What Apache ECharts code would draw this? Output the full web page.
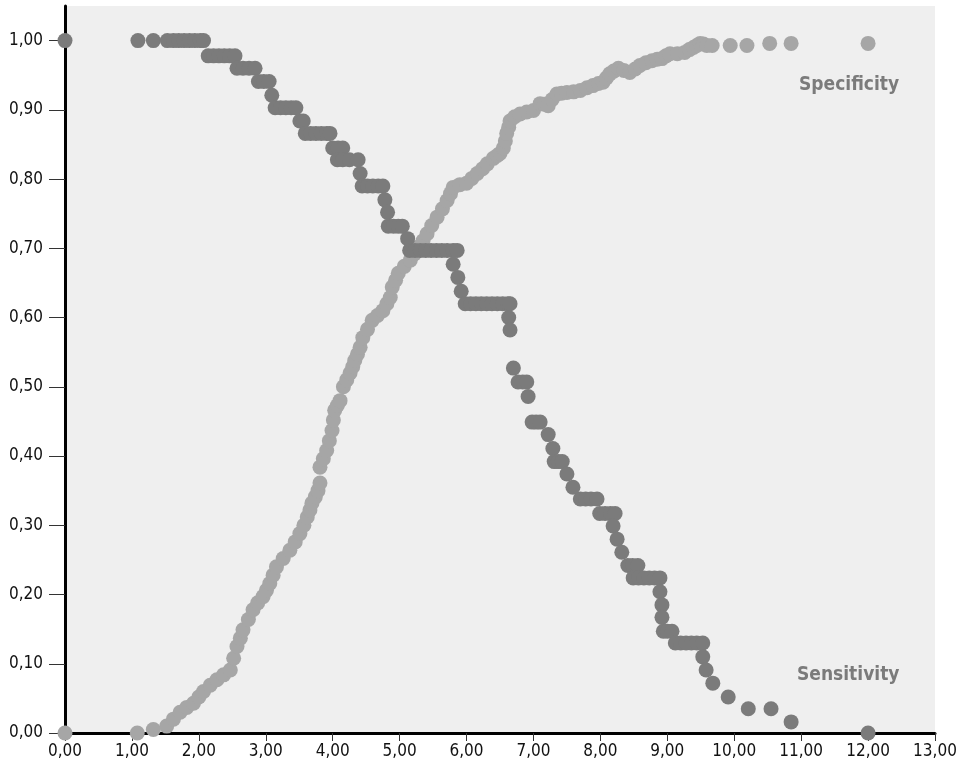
<!DOCTYPE html>
<html>
<head>
<meta charset="utf-8">
<script src="https://cdn.jsdelivr.net/npm/echarts@6/dist/echarts.min.js"></script>
<style>
  html, body { margin: 0; padding: 0; background: #fff; }
  #chart { width: 967px; height: 776px; }
</style>
</head>
<body>
<div id="chart"></div>
<script>
// Sensitivity (dark points): x cut-off, y value
const sensX = [0, 1.09, 1.32, 1.53, 1.62, 1.70, 1.78, 1.86, 1.94, 2.02, 2.07,
  2.14, 2.22, 2.30, 2.38, 2.46, 2.54,
  2.57, 2.66, 2.75, 2.84,
  2.89, 2.97, 3.05,
  3.09,
  3.14, 3.22, 3.30, 3.38, 3.45,
  3.51, 3.56,
  3.59, 3.67, 3.75, 3.83, 3.91, 3.96,
  4.00, 4.08, 4.15,
  4.07, 4.15, 4.25, 4.38,
  4.41,
  4.44, 4.52, 4.60, 4.68, 4.75,
  4.78,
  4.82,
  4.83, 4.91, 4.98, 5.04,
  5.12,
  5.15, 5.23, 5.31, 5.39, 5.47, 5.55, 5.63, 5.71, 5.80, 5.86,
  5.80,
  5.87,
  5.92,
  5.98, 6.06, 6.14, 6.22, 6.30, 6.38, 6.46, 6.54, 6.62, 6.65,
  6.63,
  6.65,
  6.70,
  6.77, 6.84, 6.90,
  6.92,
  6.98, 7.04, 7.10,
  7.22,
  7.29,
  7.31, 7.37, 7.43,
  7.50,
  7.59,
  7.70, 7.78, 7.86, 7.95,
  7.99, 8.07, 8.15, 8.22,
  8.19,
  8.25,
  8.32,
  8.41, 8.48, 8.56,
  8.49, 8.57, 8.65, 8.73, 8.81, 8.89,
  8.89,
  8.92,
  8.92,
  8.94, 9.00, 9.07,
  9.12, 9.20, 9.28, 9.36, 9.44, 9.53,
  9.53,
  9.58,
  9.68,
  9.91,
  10.21, 10.55,
  10.85,
  12.00];
const sensY = [1, 1, 1, 1, 1, 1, 1, 1, 1, 1, 1,
  0.978, 0.978, 0.978, 0.978, 0.978, 0.978,
  0.96, 0.96, 0.96, 0.96,
  0.941, 0.941, 0.941,
  0.921,
  0.903, 0.903, 0.903, 0.903, 0.903,
  0.884, 0.884,
  0.866, 0.866, 0.866, 0.866, 0.866, 0.866,
  0.845, 0.845, 0.845,
  0.828, 0.828, 0.828, 0.828,
  0.808,
  0.79, 0.79, 0.79, 0.79, 0.79,
  0.77,
  0.752,
  0.732, 0.732, 0.732, 0.732,
  0.714,
  0.697, 0.697, 0.697, 0.697, 0.697, 0.697, 0.697, 0.697, 0.697, 0.697,
  0.677,
  0.658,
  0.638,
  0.62, 0.62, 0.62, 0.62, 0.62, 0.62, 0.62, 0.62, 0.62, 0.62,
  0.60,
  0.582,
  0.527,
  0.507, 0.507, 0.507,
  0.486,
  0.449, 0.449, 0.449,
  0.431,
  0.411,
  0.392, 0.392, 0.392,
  0.374,
  0.355,
  0.338, 0.338, 0.338, 0.338,
  0.317, 0.317, 0.317, 0.317,
  0.299,
  0.28,
  0.261,
  0.242, 0.242, 0.242,
  0.224, 0.224, 0.224, 0.224, 0.224, 0.224,
  0.204,
  0.185,
  0.167,
  0.147, 0.147, 0.147,
  0.13, 0.13, 0.13, 0.13, 0.13, 0.13,
  0.11,
  0.091,
  0.072,
  0.052,
  0.035, 0.035,
  0.016,
  0];

// Specificity (light points)
const specX = [0, 1.08, 1.32, 1.52, 1.62, 1.72, 1.82, 1.92, 2.00, 2.07, 2.17, 2.27, 2.37, 2.47,
  2.52, 2.57, 2.62, 2.66, 2.74, 2.81, 2.88, 2.96, 3.01, 3.06, 3.11, 3.16, 3.26, 3.36,
  3.44, 3.51, 3.57, 3.62, 3.66, 3.69, 3.74, 3.78, 3.81, 3.81, 3.86, 3.91, 3.95, 3.99, 4.01, 4.03,
  4.07, 4.11, 4.16, 4.21, 4.26, 4.30, 4.33, 4.37, 4.41, 4.45, 4.52, 4.59, 4.67, 4.75, 4.81, 4.86,
  4.89, 4.94, 4.98, 5.07, 5.16, 5.22, 5.28, 5.35, 5.41, 5.48, 5.56, 5.64, 5.71, 5.76, 5.80, 5.90, 6.00,
  6.08, 6.16, 6.24, 6.31, 6.40, 6.46, 6.50, 6.55, 6.58, 6.60, 6.63, 6.65, 6.72, 6.80, 6.90, 7.00, 7.10,
  7.16, 7.22, 7.28, 7.35, 7.42, 7.50, 7.60, 7.70, 7.80, 7.89, 7.97, 8.04, 8.09, 8.14, 8.20, 8.27, 8.35, 8.44, 8.52, 8.59,
  8.68, 8.77, 8.85, 8.92, 8.98, 9.04, 9.15, 9.26, 9.33, 9.39, 9.44, 9.49, 9.54, 9.59, 9.67,
  9.94, 10.19, 10.53, 10.85, 12.00];
const specY = [0, 0, 0.005, 0.01, 0.02, 0.03, 0.037, 0.043, 0.052, 0.06, 0.069, 0.077, 0.084, 0.091,
  0.108, 0.125, 0.137, 0.149, 0.164, 0.178, 0.188, 0.197, 0.206, 0.216, 0.228, 0.24, 0.252, 0.264,
  0.276, 0.288, 0.300, 0.312, 0.322, 0.332, 0.341, 0.35, 0.361, 0.384, 0.396, 0.408, 0.422, 0.437, 0.452, 0.466,
  0.473, 0.48, 0.5, 0.51, 0.52, 0.529, 0.538, 0.547, 0.557, 0.571, 0.583, 0.596, 0.603, 0.61, 0.62, 0.629,
  0.644, 0.654, 0.664, 0.674, 0.683, 0.692, 0.702, 0.711, 0.721, 0.733, 0.745, 0.757, 0.769, 0.779, 0.788, 0.792, 0.794,
  0.801, 0.808, 0.815, 0.822, 0.83, 0.834, 0.837, 0.845, 0.855, 0.866, 0.875, 0.884, 0.89, 0.894, 0.897, 0.899, 0.909,
  0.908, 0.906, 0.915, 0.923, 0.924, 0.925, 0.926, 0.928, 0.932, 0.935, 0.938, 0.94, 0.946, 0.952, 0.956, 0.96, 0.957, 0.954, 0.959, 0.964,
  0.968, 0.971, 0.973, 0.974, 0.978, 0.981, 0.981, 0.983, 0.987, 0.99, 0.993, 0.996, 0.995, 0.993, 0.993,
  0.993, 0.993, 0.996, 0.996, 0.996];

const xTicks = { min: 0, max: 13, step: 1 };
const yTicks = { min: 0, max: 1.05, step: 0.1 };

const fontFam = "'Liberation Sans Narrow', 'DejaVu Sans Condensed', sans-serif";
const comma = v => v.toFixed(2).replace('.', ',');

const chart = echarts.init(document.getElementById('chart'), null, { renderer: 'canvas' });

chart.setOption({
  animation: false,
  backgroundColor: '#fff',
  grid: {
    left: 65, right: 32, top: 6, bottom: 43,
    show: true, backgroundColor: '#efefef', borderWidth: 0
  },
  xAxis: {
    type: 'value',
    min: xTicks.min, max: xTicks.max, interval: xTicks.step,
    splitLine: { show: false },
    axisLine: { show: true, onZero: false, lineStyle: { color: '#000', width: 3 } },
    axisTick: { show: true, length: 8, lineStyle: { color: '#333', width: 1 } },
    axisLabel: { formatter: comma, color: '#111', fontFamily: fontFam, fontSize: 17, margin: 10 }
  },
  yAxis: {
    type: 'value',
    min: yTicks.min, max: yTicks.max, interval: yTicks.step,
    splitLine: { show: false },
    axisLine: { show: true, onZero: false, lineStyle: { color: '#000', width: 3 } },
    axisTick: { show: true, length: 16, lineStyle: { color: '#333', width: 1 } },
    axisLabel: {
      formatter: comma, color: '#111', fontFamily: fontFam, fontSize: 17, margin: 22,
      showMaxLabel: false, verticalAlign: 'middle', padding: [0, 0, 8, 0]
    }
  },
  series: [
    {
      name: 'Specificity',
      type: 'scatter',
      symbolSize: 15,
      itemStyle: { color: '#a6a6a6', opacity: 1 },
      data: specX.map((x, i) => [x, specY[i]]),
      z: 2
    },
    {
      name: 'Sensitivity',
      type: 'scatter',
      symbolSize: 15,
      itemStyle: { color: '#7b7b7b', opacity: 1 },
      data: sensX.map((x, i) => [x, sensY[i]]),
      z: 3
    }
  ],
  graphic: [
    {
      type: 'text', left: 799, top: 76,
      style: { text: 'Specificity', fill: '#7b7b7b', font: "bold 19px " + fontFam }
    },
    {
      type: 'text', left: 797, top: 666,
      style: { text: 'Sensitivity', fill: '#7b7b7b', font: "bold 19px " + fontFam }
    }
  ]
});
</script>
</body>
</html>
